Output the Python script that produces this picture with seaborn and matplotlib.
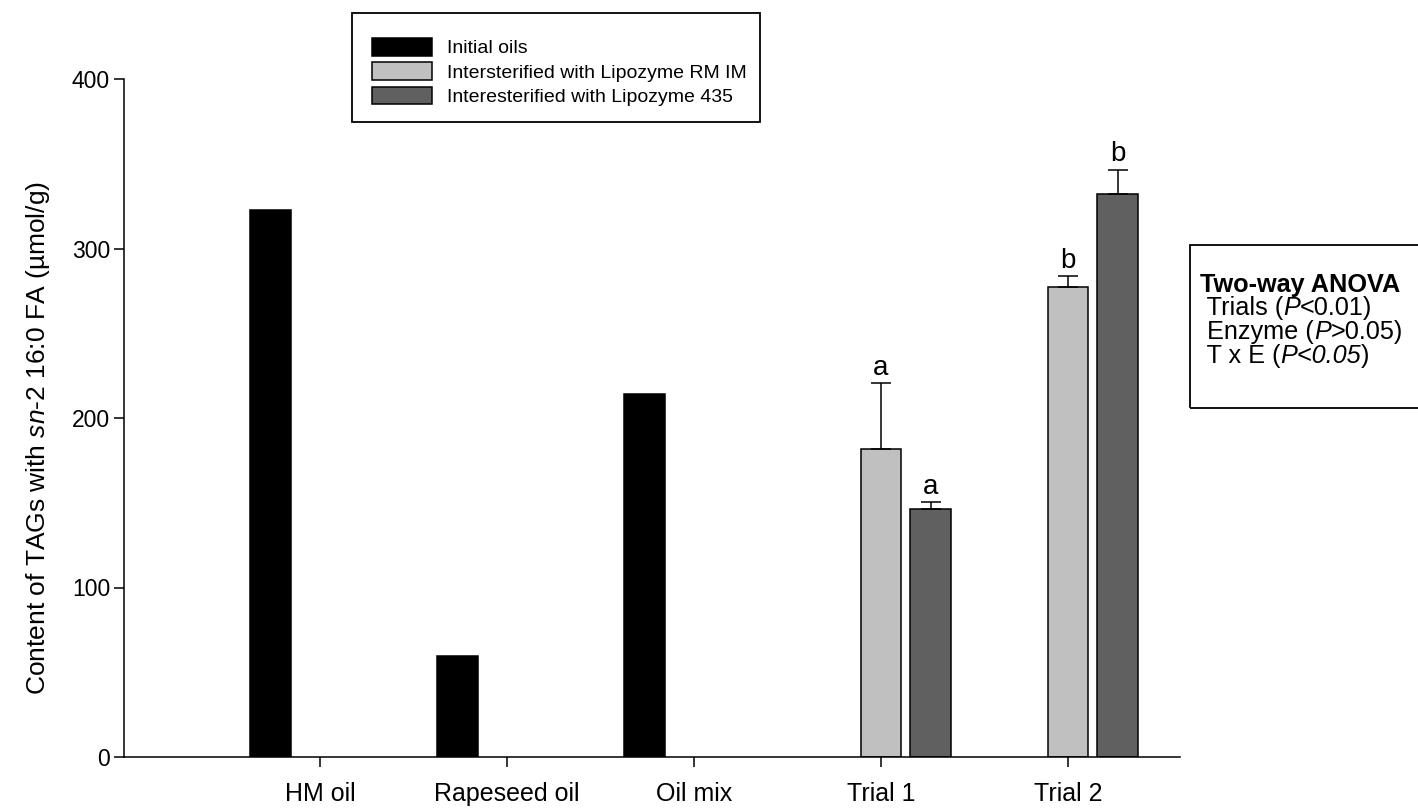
import numpy as np
import pandas as pd
import matplotlib
matplotlib.use("Agg")
import matplotlib.pyplot as plt
from matplotlib.patches import Patch, Rectangle
import seaborn as sns

# ---- data ----
categories = ["HM oil", "Rapeseed oil", "Oil mix", "Trial 1", "Trial 2"]
series = ["Initial oils",
          "Intersterified with Lipozyme RM IM",
          "Interesterified with Lipozyme 435"]
initial_oils = [323, 59.5, 214, np.nan, np.nan]
lipozyme_rm_im = [np.nan, np.nan, np.nan, 181.5, 277]
lipozyme_435 = [np.nan, np.nan, np.nan, 146.5, 332]
rm_im_sd = [np.nan, np.nan, np.nan, 39, 6.5]
l435_sd = [np.nan, np.nan, np.nan, 4, 14.5]
rm_im_letters = ["", "", "", "a", "b"]
l435_letters = ["", "", "", "a", "b"]
y_ticks = [0, 100, 200, 300, 400]
colors = ["#000000", "#c0c0c0", "#606060"]

sns.set_style("ticks")
plt.rcParams["font.family"] = ["Liberation Sans", "DejaVu Sans"]
plt.rcParams["mathtext.fontset"] = "custom"
plt.rcParams["mathtext.rm"] = "Liberation Sans"
plt.rcParams["mathtext.it"] = "Liberation Sans:italic"
plt.rcParams["mathtext.bf"] = "Liberation Sans:bold"
for key in ("text.color", "axes.labelcolor", "xtick.color", "ytick.color",
            "axes.edgecolor"):
    plt.rcParams[key] = "black"

rows = []
for s, vals, sds, letters in zip(series,
                                 [initial_oils, lipozyme_rm_im, lipozyme_435],
                                 [[np.nan] * 5, rm_im_sd, l435_sd],
                                 [[""] * 5, rm_im_letters, l435_letters]):
    for c, v, e, l in zip(categories, vals, sds, letters):
        if not np.isnan(v):
            rows.append(dict(category=c, series=s, value=v, sd=e, letter=l))
df = pd.DataFrame(rows)

W, H = 1418, 810
fig = plt.figure(figsize=(W / 100, H / 100), dpi=100)
ax = fig.add_axes([124 / W, 53 / H, 1056 / W, 678 / H])

sns.barplot(data=df, x="category", y="value", hue="series",
            order=categories, hue_order=series, palette=colors,
            saturation=1, width=0.8, gap=0.18, edgecolor="black",
            linewidth=1.1, errorbar=None, legend=False, ax=ax)

# error bars (upper only) and significance letters
offsets = {-1: 0, 0: 1, 1: 2}
for bar in ax.patches:
    h = bar.get_height()
    if not np.isfinite(h) or h <= 0:
        continue
    xc = bar.get_x() + bar.get_width() / 2
    k = int(round(xc))
    side = int(np.sign(round(xc - k, 2)))
    s = series[offsets[side]]
    row = df[(df.series == s) & (df.category == categories[k])]
    if row.empty:
        continue
    sd = row.sd.iloc[0]
    if np.isfinite(sd):
        ax.errorbar(xc, h, yerr=[[0], [sd]], fmt="none", ecolor="black",
                    elinewidth=1.1, capsize=7.5, capthick=1.1, zorder=3)
        ax.annotate(row.letter.iloc[0], (xc, h + sd), xytext=(0, 6),
                    textcoords="offset points", ha="center", va="baseline",
                    fontsize=20)

ax.set_xlim(-1.048, 4.599)
ax.set_ylim(0, 400)
ax.set_yticks(y_ticks)
ax.set_xlabel("")
ax.set_ylabel("Content of TAGs with $\\mathit{sn}$-2 16:0 FA (µmol/g)",
              fontsize=19)
ax.yaxis.set_label_coords(-0.068, 0.471)
sns.despine(ax=ax)
for sp in ("left", "bottom"):
    ax.spines[sp].set_linewidth(1.1)
    ax.spines[sp].set_color("black")
ax.tick_params(axis="x", direction="out", length=7, width=1.1,
               labelsize=18, pad=11, colors="black")
ax.tick_params(axis="y", direction="out", length=7, width=1.1,
               labelsize=16.5, pad=3, colors="black")

# legend with its own frame
handles = [Patch(facecolor=c, edgecolor="black", linewidth=1.1) for c in colors]
fig.legend(handles, series, loc="center left",
           bbox_to_anchor=(372 / W, 1 - 72 / H), bbox_transform=fig.transFigure,
           frameon=False, fontsize=14, handlelength=3.1, handleheight=1.0,
           handletextpad=0.75, labelspacing=0.25, borderpad=0, borderaxespad=0)
fig.add_artist(Rectangle((352 / W, 1 - 122 / H), (760 - 352) / W, (122 - 13) / H,
                         transform=fig.transFigure, fill=False,
                         edgecolor="black", linewidth=1.3))

# ANOVA summary box
fig.add_artist(Rectangle((1190 / W, 1 - 408 / H), 0.2, (408 - 245) / H,
                         transform=fig.transFigure, fill=False,
                         edgecolor="black", linewidth=1.3))


def rich_line(x, y_top, pieces, size=18.2):
    prev = None
    for text, style, weight in pieces:
        if prev is None:
            prev = ax.annotate(text, xy=(x, H - y_top), xycoords="figure pixels",
                               ha="left", va="bottom", fontsize=size,
                               fontstyle=style, fontweight=weight)
        else:
            prev = ax.annotate(text, xy=(1, 0), xycoords=prev,
                               ha="left", va="bottom", fontsize=size,
                               fontstyle=style, fontweight=weight)


n, i, b = "normal", "italic", "bold"
rich_line(1200, 297, [("Two-way ANOVA", n, b)])
rich_line(1200, 320, [(" Trials (", n, n), ("P", i, n), ("<0.01)", n, n)])
rich_line(1200, 344, [(" Enzyme (", n, n), ("P", i, n), (">0.05)", n, n)])
rich_line(1200, 368, [(" T x E (", n, n), ("P<0.05", i, n), (")", n, n)])

fig.savefig("out.png", dpi=100)
